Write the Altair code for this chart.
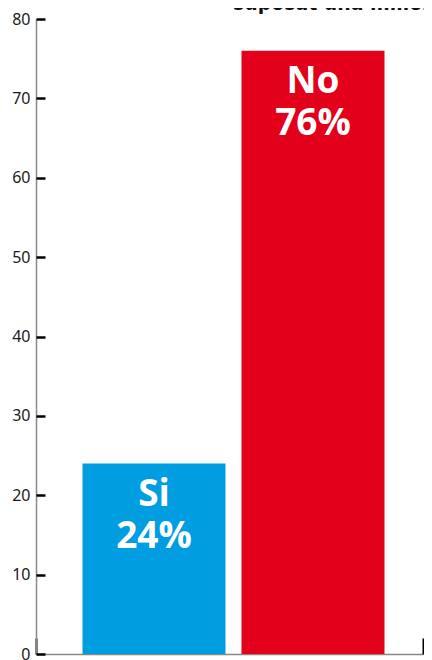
import altair as alt
import pandas as pd

categories = ["Si", "No"]
values = [24, 76]
labels = ["Si\n24%", "No\n76%"]
colors = ["#009EE0", "#E2001A"]
y_ticks = [0, 10, 20, 30, 40, 50, 60, 70, 80]
x_ends = [0, 1]
title_text = ["suposat una millora"]

df = pd.DataFrame({"cat": categories, "val": values, "label": labels})
ticks_df = pd.DataFrame({"val": y_ticks})
ends_df = pd.DataFrame({"e": x_ends})
title_df = pd.DataFrame({"t": title_text})

W, H = 387, 635

xscale = alt.Scale(type="band", domain=categories, paddingInner=0.1006,
                   paddingOuter=0.2673, align=0.547)
yscale = alt.Scale(domain=[0, 80], nice=False, zero=True)

bars = alt.Chart(df).mark_bar().encode(
    x=alt.X("cat:N", sort=categories, scale=xscale,
            axis=alt.Axis(title=None, labels=False, ticks=False, domain=True,
                          domainColor="#888888", domainWidth=1.5, grid=False)),
    y=alt.Y("val:Q", scale=yscale,
            axis=alt.Axis(title=None, values=y_ticks, ticks=False, tickSize=0,
                          domainColor="#888888", domainWidth=1.5,
                          labelFont="Noto Sans", labelFontSize=16,
                          labelColor="#1a1a1a", labelPadding=6, grid=False)),
    color=alt.Color("cat:N", scale=alt.Scale(domain=categories, range=colors), legend=None),
)

text = alt.Chart(df).mark_text(
    baseline="alphabetic", dy=42, lineBreak="\n", lineHeight=42,
    font="Open Sans", fontWeight="bold", fontSize=37, color="white", align="center",
).encode(
    x=alt.X("cat:N", sort=categories, scale=xscale, axis=None),
    y=alt.Y("val:Q", scale=yscale, axis=None),
    text="label:N",
)

yticks = alt.Chart(ticks_df).mark_point(opacity=0).encode(
    y=alt.Y("val:Q", scale=yscale,
            axis=alt.Axis(orient="right", offset=-W, domain=False, labels=False,
                          ticks=True, tickSize=9, tickWidth=2.5, tickColor="black",
                          values=y_ticks, title=None, grid=False)),
)

xends = alt.Chart(ends_df).mark_point(opacity=0).encode(
    x=alt.X("e:Q", scale=alt.Scale(domain=[0, 1], nice=False),
            axis=alt.Axis(orient="top", offset=-H, domain=False, labels=False,
                          ticks=True, tickSize=16, tickWidth=2, tickColor="black",
                          values=x_ends, title=None, grid=False)),
)

title = alt.Chart(title_df).mark_text(
    align="left", baseline="alphabetic", limit=206, ellipsis=" ",
    font="DejaVu Sans Condensed", fontSize=21, fontWeight="bold", color="#111111",
).encode(x=alt.value(197), y=alt.value(-9), text="t:N")

chart = alt.layer(bars, text, yticks, xends, title).resolve_scale(
    x="independent"
).resolve_axis(
    x="independent", y="independent"
).properties(
    width=W, height=H,
    autosize=alt.AutoSizeParams(type="none"),
    padding={"left": 28, "top": 11, "right": 1, "bottom": 30},
).configure_view(stroke=None)

chart.save("out.html", embed_options={"renderer": "svg", "actions": False})
